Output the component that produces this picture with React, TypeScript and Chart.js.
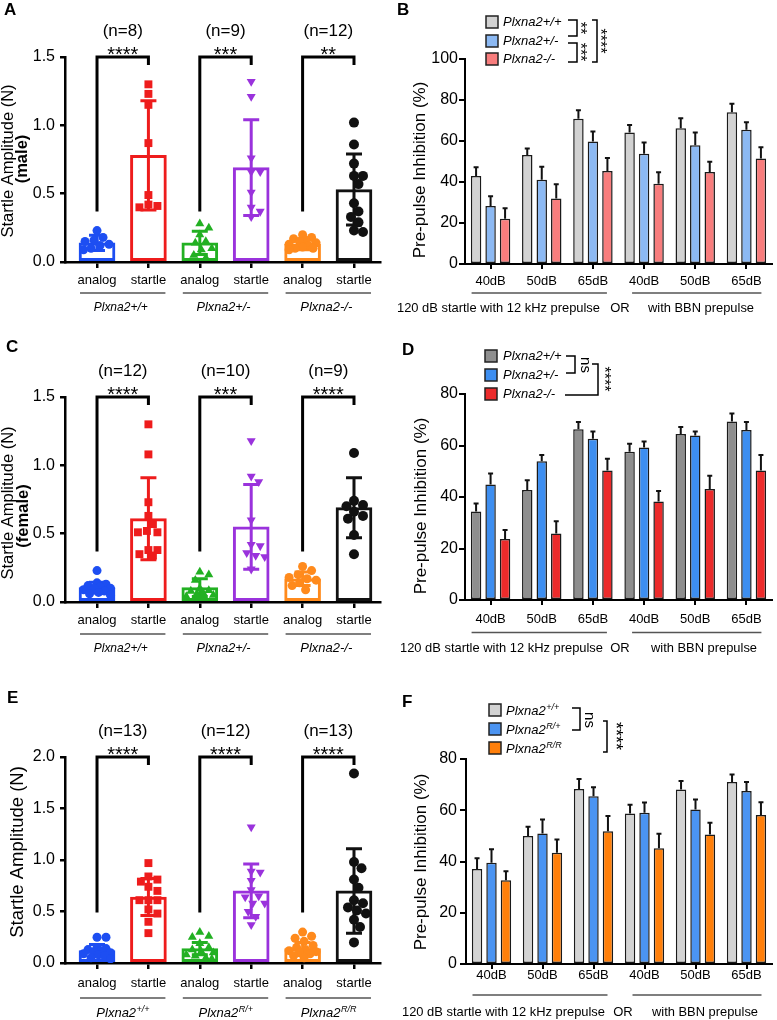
import { useEffect, useRef } from 'react';
import { Chart, registerables } from 'chart.js';

Chart.register(...registerables);

const FONT = '"Liberation Sans", Arial, Helvetica, sans-serif';
Chart.defaults.font.family = FONT;
Chart.defaults.color = '#000';

// ================= Panels A / C / E : startle amplitude =================
const pairLabels = ['analog', 'startle', 'analog', 'startle', 'analog', 'startle'];
const hetGenotypes = ['Plxna2+/+', 'Plxna2+/-', 'Plxna2-/-'];
const rGenotypeBase = 'Plxna2';
const rGenotypeSup = ['+/+', 'R/+', 'R/R'];

// A (male)
const maleN = ['(n=8)', '(n=9)', '(n=12)'];
const maleStars = ['****', '***', '**'];
const maleMeans = [0.14, 0.78, 0.14, 0.69, 0.13, 0.53];
const maleSD = [0.055, 0.40, 0.085, 0.35, 0.04, 0.26];
const maleWtAnalog = [0.23, 0.18, 0.16, 0.15, 0.13, 0.12, 0.10, 0.09];
const maleWtStartle = [1.30, 1.23, 1.15, 0.87, 0.49, 0.42, 0.41, 0.40];
const maleHetAnalog = [0.28, 0.25, 0.20, 0.15, 0.14, 0.10, 0.09, 0.05, 0.03];
const maleHetStartle = [1.32, 1.21, 0.76, 0.66, 0.66, 0.51, 0.40, 0.37, 0.33];
const maleKoAnalog = [0.20, 0.18, 0.17, 0.16, 0.15, 0.14, 0.13, 0.12, 0.11, 0.10, 0.10, 0.09];
const maleKoStartle = [1.02, 0.86, 0.72, 0.63, 0.63, 0.57, 0.43, 0.37, 0.33, 0.29, 0.23, 0.22];

// C (female)
const femaleN = ['(n=12)', '(n=10)', '(n=9)'];
const femaleStars = ['****', '***', '****'];
const femaleMeans = [0.105, 0.61, 0.105, 0.55, 0.17, 0.69];
const femaleSD = [0.04, 0.30, 0.065, 0.31, 0.05, 0.22];
const femaleWtAnalog = [0.23, 0.14, 0.13, 0.12, 0.11, 0.10, 0.10, 0.09, 0.08, 0.07, 0.06, 0.05];
const femaleWtStartle = [1.30, 1.08, 0.73, 0.63, 0.57, 0.52, 0.51, 0.51, 0.38, 0.38, 0.35, 0.34];
const femaleHetAnalog = [0.22, 0.20, 0.16, 0.10, 0.085, 0.08, 0.07, 0.06, 0.05, 0.04];
const femaleHetStartle = [1.18, 0.92, 0.88, 0.60, 0.42, 0.41, 0.36, 0.34, 0.33, 0.24];
const femaleKoAnalog = [0.26, 0.23, 0.20, 0.18, 0.17, 0.16, 0.14, 0.12, 0.09];
const femaleKoStartle = [1.09, 0.74, 0.71, 0.70, 0.66, 0.63, 0.61, 0.49, 0.35];

// E (R allele)
const rN = ['(n=13)', '(n=12)', '(n=13)'];
const rStars = ['****', '****', '****'];
const rMeans = [0.12, 0.64, 0.14, 0.70, 0.14, 0.70];
const rSD = [0.06, 0.18, 0.06, 0.26, 0.06, 0.41];
const rWtAnalog = [0.25, 0.25, 0.15, 0.14, 0.13, 0.12, 0.11, 0.10, 0.09, 0.08, 0.07, 0.05, 0.04];
const rWtStartle = [0.97, 0.84, 0.81, 0.79, 0.74, 0.70, 0.61, 0.61, 0.61, 0.52, 0.48, 0.40, 0.29];
const rHetAnalog = [0.30, 0.26, 0.25, 0.19, 0.15, 0.13, 0.11, 0.10, 0.08, 0.07, 0.05, 0.04];
const rHetStartle = [1.32, 0.89, 0.88, 0.80, 0.71, 0.65, 0.64, 0.58, 0.58, 0.50, 0.45, 0.37];
const rHomAnalog = [0.30, 0.26, 0.24, 0.21, 0.17, 0.15, 0.13, 0.12, 0.11, 0.10, 0.09, 0.07, 0.05];
const rHomStartle = [1.84, 0.98, 0.92, 0.81, 0.73, 0.61, 0.58, 0.54, 0.51, 0.48, 0.42, 0.35, 0.20];

// ================= Panels B / D / F : pre-pulse inhibition =================
const prepulseLevels = ['40dB', '50dB', '65dB', '40dB', '50dB', '65dB'];
const captionParts = ['120 dB startle with 12 kHz prepulse', 'OR', 'with BBN prepulse'];

const bWt = [42.9, 53.2, 70.9, 64.1, 66.2, 74.0];
const bWtErr = [4.3, 3.2, 4.1, 3.7, 4.9, 4.2];
const bHet = [28.3, 41.1, 59.7, 53.8, 57.9, 65.5];
const bHetErr = [4.7, 6.4, 4.9, 5.5, 6.2, 3.6];
const bKo = [22.1, 32.0, 45.4, 39.2, 44.9, 51.5];
const bKoErr = [5.1, 6.9, 6.3, 5.5, 5.0, 5.4];

const dWt = [34.4, 42.7, 66.3, 57.6, 64.5, 69.3];
const dWtErr = [3.1, 3.8, 2.8, 3.1, 2.7, 3.1];
const dHet = [44.9, 53.9, 62.6, 59.2, 63.9, 66.0];
const dHetErr = [4.2, 2.4, 2.8, 2.4, 1.5, 3.1];
const dKo = [23.7, 25.8, 50.3, 38.3, 43.1, 50.3];
const dKoErr = [3.5, 4.8, 4.6, 4.0, 5.2, 6.0];

const fWt = [37.1, 50.0, 68.3, 58.7, 68.1, 71.0];
const fWtErr = [4.2, 3.6, 3.9, 3.4, 3.3, 3.0];
const fHet = [39.5, 50.9, 65.5, 59.0, 60.3, 67.5];
const fHetErr = [5.3, 5.5, 3.5, 4.0, 3.9, 3.5];
const fHom = [32.7, 43.4, 51.8, 45.2, 50.5, 58.1];
const fHomErr = [3.5, 5.2, 6.0, 5.6, 4.6, 5.0];

// ================= styles =================
const scatterColors = ['#1d4ef2', '#ee1c1c', '#22b022', '#9a32dc', '#ff8a1c', '#111111'];
const scatterShapes = ['circle', 'rect', 'triangle', 'triangle', 'circle', 'circle'];
const scatterRot = [0, 0, 0, 180, 0, 0];
const scatterRadius = [4.5, 5.6, 5.2, 5.2, 4.5, 5];
const X_MIN = 0.377;
const X_MAX = 6.506;

function rotatedText(ctx: any, text: string, x: number, y: number, size: number, angle: number, bold = false) {
  ctx.save();
  ctx.translate(x, y);
  ctx.rotate(angle);
  ctx.font = `${bold ? 'bold ' : ''}${size}px ${FONT}`;
  ctx.textAlign = 'center';
  ctx.textBaseline = 'middle';
  ctx.fillText(text, 0, 0);
  ctx.restore();
}

function supText(ctx: any, base: string, sup: string, cx: number | null, left: number | null, baseline: number, size: number) {
  ctx.save();
  ctx.textBaseline = 'alphabetic';
  ctx.textAlign = 'left';
  ctx.font = `italic ${size}px ${FONT}`;
  const bw = ctx.measureText(base).width;
  const supSize = Math.round(size * 0.72);
  ctx.font = `italic ${supSize}px ${FONT}`;
  const sw = ctx.measureText(sup).width;
  const x0 = cx !== null ? cx - (bw + sw) / 2 : (left as number);
  ctx.font = `italic ${size}px ${FONT}`;
  ctx.fillText(base, x0, baseline);
  ctx.font = `italic ${supSize}px ${FONT}`;
  ctx.fillText(sup, x0 + bw + 0.5, baseline - size * 0.42);
  ctx.restore();
}

function scatterChart(canvas: HTMLCanvasElement, s: any) {
  const W = canvas.width;
  const H = canvas.height;
  const a = s.area;
  const plugin = {
    id: 'scatterAnnot',
    afterDatasetDraw(chart: any, args: any) {
      if (args.index !== 0) return;
      const { ctx } = chart;
      const xs = chart.scales.x;
      const ys = chart.scales.y;
      ctx.save();
      ctx.lineWidth = 3;
      s.means.forEach((m: number, i: number) => {
        const x = xs.getPixelForValue(i + 1);
        const yHi = ys.getPixelForValue(m + s.sds[i]);
        const yLo = ys.getPixelForValue(Math.max(0, m - s.sds[i]));
        ctx.strokeStyle = scatterColors[i];
        ctx.beginPath();
        ctx.moveTo(x, yHi);
        ctx.lineTo(x, yLo);
        ctx.moveTo(x - 8, yHi);
        ctx.lineTo(x + 8, yHi);
        ctx.moveTo(x - 8, yLo);
        ctx.lineTo(x + 8, yLo);
        ctx.stroke();
      });
      ctx.restore();
    },
    afterDraw(chart: any) {
      const { ctx } = chart;
      const xs = chart.scales.x;
      const ys = chart.scales.y;
      const axisY = chart.chartArea.bottom;
      ctx.save();
      ctx.fillStyle = '#000';
      ctx.font = `bold 17px ${FONT}`;
      ctx.textAlign = 'left';
      ctx.textBaseline = 'alphabetic';
      ctx.fillText(s.letter, s.letterX, s.letterY);
      s.titles.forEach((t: any) => rotatedText(ctx, t.text, t.x, t.y, t.size, -Math.PI / 2, t.bold));
      const yTop = ys.getPixelForValue(s.yMax);
      const yLow = ys.getPixelForValue(s.bracketLow);
      for (let g = 0; g < 3; g++) {
        const xa = xs.getPixelForValue(2 * g + 1);
        const xb = xs.getPixelForValue(2 * g + 2);
        const xc = (xa + xb) / 2;
        ctx.strokeStyle = '#000';
        ctx.lineWidth = 3;
        ctx.lineJoin = 'miter';
        ctx.beginPath();
        ctx.moveTo(xa, yLow);
        ctx.lineTo(xa, yTop);
        ctx.lineTo(xb, yTop);
        ctx.lineTo(xb, yTop + 8);
        ctx.stroke();
        ctx.fillStyle = '#000';
        ctx.textAlign = 'center';
        ctx.font = `20px ${FONT}`;
        ctx.textBaseline = 'alphabetic';
        ctx.fillText(s.stars[g], xc, yTop + 4);
        ctx.font = `17px ${FONT}`;
        ctx.textBaseline = 'middle';
        ctx.fillText(s.nLabels[g], xc, yTop - 26);
        ctx.strokeStyle = '#555';
        ctx.lineWidth = 1.5;
        ctx.beginPath();
        ctx.moveTo(xa - 17, axisY + s.lineDy);
        ctx.lineTo(xb + 17, axisY + s.lineDy);
        ctx.stroke();
        if (s.genoSup) {
          supText(ctx, s.genoBase, s.genoSup[g], xc, null, axisY + s.genoDy, 13);
        } else {
          ctx.font = `italic 13px ${FONT}`;
          ctx.textBaseline = 'middle';
          ctx.textAlign = 'center';
          ctx.fillText(s.genoPlain[g], xc - 2, axisY + s.genoDy, 54);
        }
      }
      ctx.restore();
    },
  };

  const chart: any = new Chart(canvas, {
    type: 'bar',
    data: {
      datasets: [
        {
          type: 'bar',
          data: s.means.map((m: number, i: number) => ({ x: i + 1, y: m })),
          backgroundColor: '#ffffff',
          borderColor: scatterColors,
          borderWidth: 3,
          borderSkipped: false,
          barThickness: 36,
          order: 2,
        },
        ...s.groups.map((vals: number[], i: number) => ({
          type: 'scatter',
          data: vals.map((v) => ({ x: i + 1, y: v })),
          pointStyle: scatterShapes[i],
          pointRotation: scatterRot[i],
          pointRadius: scatterRadius[i],
          pointBackgroundColor: scatterColors[i],
          pointBorderWidth: 0,
          order: 1,
        })),
      ],
    } as any,
    options: {
      responsive: false,
      animation: false,
      devicePixelRatio: 1,
      events: [],
      layout: { padding: { left: 0, top: a.t, right: W - a.r, bottom: 0 } },
      plugins: { legend: { display: false }, tooltip: { enabled: false } },
      scales: {
        x: {
          type: 'linear',
          min: X_MIN,
          max: X_MAX,
          offset: false,
          afterBuildTicks: (sc: any) => {
            sc.ticks = pairLabels.map((_, i) => ({ value: i + 1 }));
          },
          afterFit: (sc: any) => {
            sc.height = H - a.b;
          },
          ticks: {
            callback: (v: any) => pairLabels[Math.round(Number(v)) - 1] ?? '',
            autoSkip: false,
            maxRotation: 0,
            font: { size: 13 },
            color: '#000',
            padding: s.xPad,
          },
          grid: { display: true, drawOnChartArea: false, drawTicks: true, tickLength: 6, lineWidth: 2.5, color: '#000', offset: false },
          border: { display: true, width: 2.5, color: '#000' },
        },
        y: {
          min: 0,
          max: s.yMax,
          afterFit: (sc: any) => {
            sc.width = a.l;
          },
          ticks: { stepSize: 0.5, callback: (v: any) => Number(v).toFixed(1), font: { size: 16 }, color: '#000', padding: 5 },
          grid: { display: true, drawOnChartArea: false, drawTicks: true, tickLength: 5, lineWidth: 2.5, color: '#000' },
          border: { display: true, width: 2.5, color: '#000' },
        },
      },
    } as any,
    plugins: [plugin],
  });

  // compact beeswarm spread of the points, computed with the chart's own scales
  const xs = chart.scales.x;
  const ys = chart.scales.y;
  const ppu = xs.getPixelForValue(2) - xs.getPixelForValue(1);
  const MIN_D = 9;
  const MAX_OFF = 14;
  s.groups.forEach((vals: number[], gi: number) => {
    const placed: { x: number; y: number }[] = [];
    chart.data.datasets[gi + 1].data = vals.map((v) => {
      const py = ys.getPixelForValue(v);
      let best = 0;
      let bestD = -1;
      for (let k = 0; k < 60; k++) {
        const cand = k === 0 ? 0 : (k % 2 === 1 ? 1 : -1) * Math.ceil(k / 2) * 1.5;
        if (Math.abs(cand) > MAX_OFF) break;
        const d = placed.length ? Math.min(...placed.map((p) => Math.hypot(p.x - cand, p.y - py))) : 99;
        if (d >= MIN_D) {
          best = cand;
          bestD = d;
          break;
        }
        if (d > bestD + 0.5) {
          bestD = d;
          best = cand;
        }
      }
      placed.push({ x: best, y: py });
      return { x: gi + 1 + best / ppu, y: v };
    });
  });
  chart.update();
  return chart;
}

function groupedChart(canvas: HTMLCanvasElement, s: any) {
  const W = canvas.width;
  const H = canvas.height;
  const a = s.area;
  const plugin = {
    id: 'groupedAnnot',
    afterDatasetsDraw(chart: any) {
      const { ctx } = chart;
      const ys = chart.scales.y;
      ctx.save();
      ctx.strokeStyle = '#111';
      ctx.lineWidth = 2;
      s.series.forEach((vals: number[], i: number) => {
        const meta = chart.getDatasetMeta(i);
        meta.data.forEach((bar: any, j: number) => {
          const y1 = ys.getPixelForValue(vals[j] + s.errs[i][j]);
          ctx.beginPath();
          ctx.moveTo(bar.x, bar.y);
          ctx.lineTo(bar.x, y1);
          ctx.moveTo(bar.x - 2.5, y1);
          ctx.lineTo(bar.x + 2.5, y1);
          ctx.stroke();
        });
      });
      ctx.restore();
    },
    afterDraw(chart: any) {
      const { ctx } = chart;
      const xs = chart.scales.x;
      const axisY = chart.chartArea.bottom;
      ctx.save();
      ctx.fillStyle = '#000';
      ctx.font = `bold 17px ${FONT}`;
      ctx.textAlign = 'left';
      ctx.textBaseline = 'alphabetic';
      ctx.fillText(s.letter, s.letterX, s.letterY);
      rotatedText(ctx, 'Pre-pulse Inhibition (%)', s.titleX, s.titleY, 17, -Math.PI / 2);
      // legend
      s.legendRows.forEach((ry: number, i: number) => {
        ctx.fillStyle = s.colors[i];
        ctx.fillRect(s.boxX, ry - 6, 12, 12);
        ctx.strokeStyle = '#222';
        ctx.lineWidth = 1.5;
        ctx.strokeRect(s.boxX, ry - 6, 12, 12);
        ctx.fillStyle = '#000';
        if (s.legendSup) {
          supText(ctx, s.legendBase, s.legendSup[i], null, s.textX, ry + 5, 13);
        } else {
          ctx.font = `italic 13px ${FONT}`;
          ctx.textAlign = 'left';
          ctx.textBaseline = 'middle';
          ctx.fillText(s.legendLabels[i], s.textX, ry);
        }
      });
      ctx.strokeStyle = '#000';
      ctx.lineWidth = 1.5;
      s.brackets.forEach((b: any) => {
        ctx.beginPath();
        ctx.moveTo(b.a1, b.y1);
        ctx.lineTo(b.x, b.y1);
        ctx.lineTo(b.x, b.y2);
        ctx.lineTo(b.a2, b.y2);
        ctx.stroke();
      });
      ctx.fillStyle = '#000';
      s.bracketTexts.forEach((t: any) => {
        const dx = t.text.includes('*') ? -0.22 * t.size : 0.09 * t.size;
        rotatedText(ctx, t.text, t.x + dx, t.y, t.size, Math.PI / 2);
      });
      // group underlines and caption
      const c = prepulseLevels.map((_, i) => xs.getPixelForValue(i));
      ctx.strokeStyle = '#555';
      ctx.lineWidth = 1.5;
      ctx.beginPath();
      ctx.moveTo(c[0] - 19, axisY + s.lineDy);
      ctx.lineTo(c[2] + 14, axisY + s.lineDy);
      ctx.moveTo(c[3] - 12, axisY + s.lineDy);
      ctx.lineTo(c[5] + 15, axisY + s.lineDy);
      ctx.stroke();
      ctx.font = `13px ${FONT}`;
      ctx.textBaseline = 'middle';
      ctx.textAlign = 'left';
      ctx.fillText(captionParts[0], s.captionX[0], axisY + s.captionDy, 203);
      ctx.textAlign = 'center';
      ctx.fillText(captionParts[1], s.captionX[1], axisY + s.captionDy);
      ctx.textAlign = 'left';
      ctx.fillText(captionParts[2], s.captionX[2], axisY + s.captionDy, 106);
      ctx.restore();
    },
  };

  return new Chart(canvas, {
    type: 'bar',
    data: {
      labels: prepulseLevels,
      datasets: s.series.map((vals: number[], i: number) => ({
        label: s.legendLabels[i],
        data: vals,
        backgroundColor: s.colors[i],
        borderColor: '#1a1a1a',
        borderWidth: 1.5,
        borderSkipped: false,
        categoryPercentage: 0.85,
        barPercentage: 0.72,
      })),
    },
    options: {
      responsive: false,
      animation: false,
      devicePixelRatio: 1,
      events: [],
      layout: { padding: { left: 0, top: a.t, right: W - a.r, bottom: 0 } },
      plugins: { legend: { display: false }, tooltip: { enabled: false } },
      scales: {
        x: {
          type: 'category',
          offset: true,
          afterFit: (sc: any) => {
            sc.height = H - a.b;
          },
          ticks: { font: { size: 13 }, color: '#000', padding: s.xPad, autoSkip: false, maxRotation: 0 },
          grid: { display: true, drawOnChartArea: false, drawTicks: true, tickLength: 5, lineWidth: 2, color: '#000', offset: false },
          border: { display: true, width: 2, color: '#000' },
        },
        y: {
          min: 0,
          max: s.yMax,
          afterFit: (sc: any) => {
            sc.width = a.l;
          },
          ticks: { stepSize: 20, font: { size: 16 }, color: '#000', padding: s.yPad },
          grid: { display: true, drawOnChartArea: false, drawTicks: true, tickLength: 6, lineWidth: 2, color: '#000' },
          border: { display: true, width: 2, color: '#000' },
        },
      },
    } as any,
    plugins: [plugin],
  });
}

// ================= panel specs (layout only) =================
const specA = {
  area: { l: 65, r: 380, t: 57, b: 262 },
  yMax: 1.5,
  means: maleMeans,
  sds: maleSD,
  groups: [maleWtAnalog, maleWtStartle, maleHetAnalog, maleHetStartle, maleKoAnalog, maleKoStartle],
  nLabels: maleN,
  stars: maleStars,
  bracketLow: 0.37,
  letter: 'A',
  letterX: 4,
  letterY: 15,
  titles: [
    { text: 'Startle Amplitude (N)', bold: false, x: 8.5, y: 161, size: 16.5 },
    { text: '(male)', bold: true, x: 22, y: 159, size: 16.5 },
  ],
  xPad: 5,
  lineDy: 31,
  genoDy: 45,
  genoPlain: hetGenotypes,
};

const specC = {
  area: { l: 65, r: 380, t: 62, b: 267 },
  yMax: 1.5,
  means: femaleMeans,
  sds: femaleSD,
  groups: [femaleWtAnalog, femaleWtStartle, femaleHetAnalog, femaleHetStartle, femaleKoAnalog, femaleKoStartle],
  nLabels: femaleN,
  stars: femaleStars,
  bracketLow: 0.37,
  letter: 'C',
  letterX: 6,
  letterY: 17,
  titles: [
    { text: 'Startle Amplitude (N)', bold: false, x: 8.5, y: 168, size: 16.5 },
    { text: '(female)', bold: true, x: 23, y: 181, size: 16.5 },
  ],
  xPad: 5,
  lineDy: 32,
  genoDy: 46,
  genoPlain: hetGenotypes,
};

const specE = {
  area: { l: 65, r: 380, t: 77, b: 283 },
  yMax: 2.0,
  means: rMeans,
  sds: rSD,
  groups: [rWtAnalog, rWtStartle, rHetAnalog, rHetStartle, rHomAnalog, rHomStartle],
  nLabels: rN,
  stars: rStars,
  bracketLow: 0.49,
  letter: 'E',
  letterX: 7,
  letterY: 23,
  titles: [{ text: 'Startle Amplitude (N)', bold: false, x: 18, y: 172, size: 18.5 }],
  xPad: 7,
  lineDy: 35,
  genoDy: 54,
  genoBase: rGenotypeBase,
  genoSup: rGenotypeSup,
};

const specB = {
  area: { l: 75, r: 382, t: 59, b: 264 },
  yMax: 100,
  series: [bWt, bHet, bKo],
  errs: [bWtErr, bHetErr, bKoErr],
  colors: ['#d2d2d2', '#8cb9f3', '#f87d7d'],
  legendLabels: hetGenotypes,
  legendRows: [22, 41, 59],
  boxX: 96,
  textX: 113,
  brackets: [
    { x: 187, y1: 20, y2: 36, a1: 178, a2: 178 },
    { x: 187, y1: 43, y2: 62, a1: 178, a2: 178 },
    { x: 207, y1: 20, y2: 62, a1: 202, a2: 202 },
  ],
  bracketTexts: [
    { text: '**', x: 193, y: 28, size: 16 },
    { text: '***', x: 193, y: 52, size: 16 },
    { text: '****', x: 213, y: 41, size: 16 },
  ],
  letter: 'B',
  letterX: 7,
  letterY: 15,
  titleX: 30,
  titleY: 170,
  xPad: 5,
  yPad: 1,
  lineDy: 29,
  captionDy: 44,
  captionX: [7, 230, 258],
};

const specD = {
  area: { l: 75, r: 382, t: 59, b: 265 },
  yMax: 80,
  series: [dWt, dHet, dKo],
  errs: [dWtErr, dHetErr, dKoErr],
  colors: ['#8e8e8e', '#3d8ef0', '#ec2b2b'],
  legendLabels: hetGenotypes,
  legendRows: [21, 40, 59],
  boxX: 95,
  textX: 113,
  brackets: [
    { x: 185, y1: 21, y2: 38, a1: 176, a2: 176 },
    { x: 208, y1: 29, y2: 60, a1: 202, a2: 175 },
  ],
  bracketTexts: [
    { text: 'ns', x: 194, y: 30, size: 15 },
    { text: '****', x: 217, y: 44, size: 16 },
  ],
  letter: 'D',
  letterX: 12,
  letterY: 20,
  titleX: 31,
  titleY: 171,
  xPad: 7,
  yPad: 1,
  lineDy: 32.5,
  captionDy: 48.5,
  captionX: [10, 230, 261],
};

const specF = {
  area: { l: 76, r: 382, t: 79, b: 284 },
  yMax: 80,
  series: [fWt, fHet, fHom],
  errs: [fWtErr, fHetErr, fHomErr],
  colors: ['#d3d3d3', '#4b94f2', '#ff7f0a'],
  legendLabels: rGenotypeSup.map((sup) => rGenotypeBase + sup),
  legendBase: rGenotypeBase,
  legendSup: rGenotypeSup,
  legendRows: [30, 49, 68],
  boxX: 99,
  textX: 116,
  brackets: [
    { x: 190, y1: 28, y2: 50, a1: 182, a2: 182 },
    { x: 217, y1: 41, y2: 72, a1: 213, a2: 213 },
  ],
  bracketTexts: [
    { text: 'ns', x: 198, y: 40, size: 15 },
    { text: '****', x: 229, y: 56, size: 18 },
  ],
  letter: 'F',
  letterX: 12,
  letterY: 27,
  titleX: 31,
  titleY: 182,
  xPad: -1,
  yPad: 3,
  lineDy: 31,
  captionDy: 48,
  captionX: [12, 233, 262],
};

function ChartCanvas({ x, y, w, h, build }: any) {
  const ref = useRef<HTMLCanvasElement>(null);
  useEffect(() => {
    const chart = build(ref.current);
    return () => chart.destroy();
  }, []);
  return (
    <canvas
      ref={ref}
      width={w}
      height={h}
      style={{ position: 'absolute', left: x, top: y, width: w, height: h }}
    />
  );
}

export default function App() {
  return (
    <div style={{ position: 'absolute', left: 0, top: 0, width: 777, height: 1020, background: '#fff', overflow: 'hidden' }}>
      <ChartCanvas x={0} y={0} w={390} h={330} build={(c: HTMLCanvasElement) => scatterChart(c, specA)} />
      <ChartCanvas x={390} y={0} w={387} h={330} build={(c: HTMLCanvasElement) => groupedChart(c, specB)} />
      <ChartCanvas x={0} y={335} w={390} h={330} build={(c: HTMLCanvasElement) => scatterChart(c, specC)} />
      <ChartCanvas x={390} y={335} w={387} h={330} build={(c: HTMLCanvasElement) => groupedChart(c, specD)} />
      <ChartCanvas x={0} y={680} w={390} h={340} build={(c: HTMLCanvasElement) => scatterChart(c, specE)} />
      <ChartCanvas x={390} y={680} w={387} h={340} build={(c: HTMLCanvasElement) => groupedChart(c, specF)} />
    </div>
  );
}
